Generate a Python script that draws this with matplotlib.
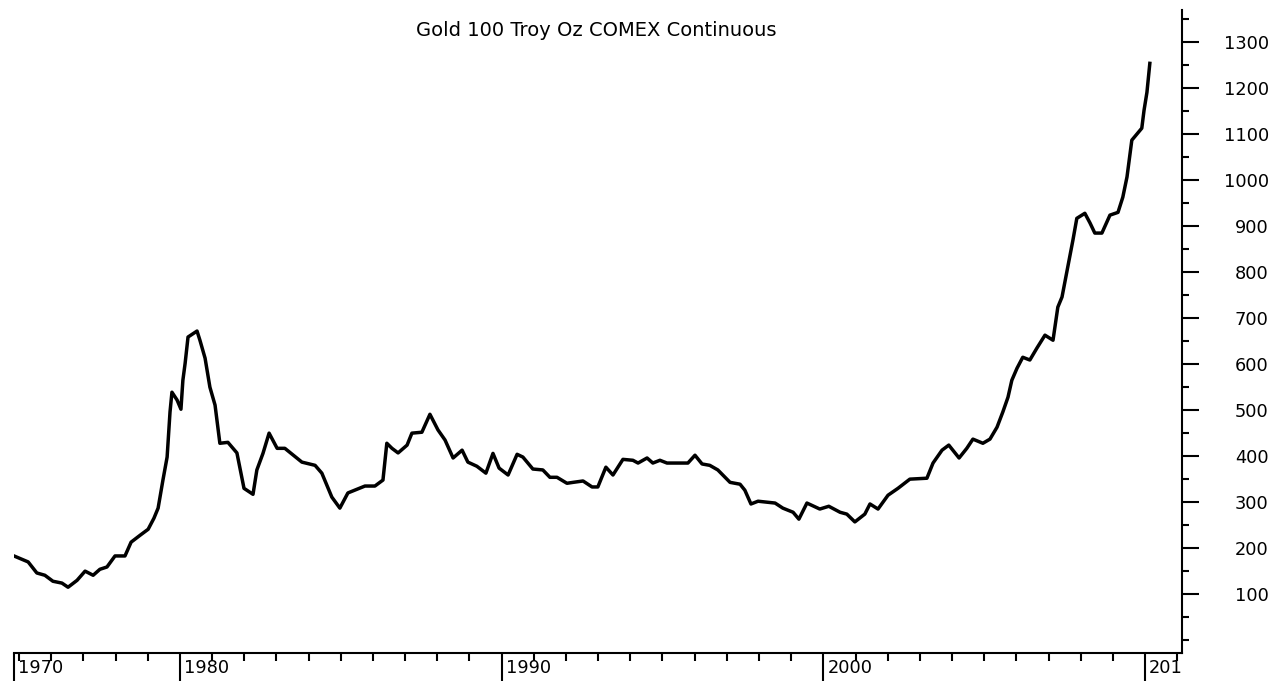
import matplotlib.pyplot as plt
import matplotlib.transforms as mtransforms
from matplotlib.ticker import MultipleLocator

# Gold price series (year, USD/oz)
years = [
    1974.84, 1975.28, 1975.55, 1975.80, 1976.05, 1976.33, 1976.52, 1976.80,
    1977.05, 1977.30, 1977.51, 1977.73, 1977.98, 1978.29, 1978.48, 1978.76,
    1979.01, 1979.19, 1979.32, 1979.47, 1979.60, 1979.69, 1979.75, 1979.91,
    1980.03, 1980.09, 1980.16, 1980.25, 1980.53, 1980.62, 1980.78, 1980.93,
    1981.09, 1981.24, 1981.49, 1981.77, 1981.99, 1982.27, 1982.39, 1982.58,
    1982.77, 1983.02, 1983.26, 1983.79, 1984.20, 1984.41, 1984.72, 1984.97,
    1985.22, 1985.75, 1986.06, 1986.31, 1986.43, 1986.59, 1986.78, 1987.06,
    1987.21, 1987.52, 1987.77, 1988.02, 1988.24, 1988.49, 1988.77, 1988.95,
    1989.23, 1989.51, 1989.73, 1989.92, 1990.20, 1990.48, 1990.66, 1990.97,
    1991.28, 1991.50, 1991.72, 1992.03, 1992.22, 1992.53, 1992.81, 1992.99,
    1993.24, 1993.46, 1993.77, 1994.08, 1994.24, 1994.52, 1994.70, 1994.92,
    1995.14, 1995.79, 1996.01, 1996.23, 1996.47, 1996.72, 1997.10, 1997.41,
    1997.56, 1997.75, 1997.97, 1998.50, 1998.74, 1999.06, 1999.24, 1999.49,
    1999.89, 2000.17, 2000.52, 2000.73, 2000.98, 2001.29, 2001.45, 2001.70,
    2002.01, 2002.32, 2002.69, 2003.22, 2003.41, 2003.69, 2003.90, 2004.22,
    2004.46, 2004.65, 2004.96, 2005.18, 2005.40, 2005.58, 2005.74, 2005.86,
    2006.02, 2006.20, 2006.42, 2006.64, 2006.89, 2007.14, 2007.29, 2007.42,
    2007.60, 2007.76, 2007.88, 2008.13, 2008.29, 2008.44, 2008.66, 2008.91,
    2009.16, 2009.31, 2009.44, 2009.59, 2009.90, 2009.97, 2010.06, 2010.15,
]
prices = [
    183, 170, 146, 141, 128, 124, 115, 130,
    150, 141, 154, 159, 183, 183, 213, 228,
    241, 265, 287, 348, 398, 496, 539, 522,
    502, 565, 602, 659, 672, 652, 613, 550,
    511, 428, 430, 407, 330, 317, 370, 406,
    450, 417, 417, 387, 380, 363, 311, 287,
    320, 335, 335, 348, 428, 417, 407, 424,
    450, 452, 491, 457, 435, 396, 413, 387,
    378, 363, 406, 374, 359, 404, 398, 372,
    370, 354, 354, 341, 343, 346, 333, 333,
    376, 359, 393, 391, 385, 396, 385, 391,
    385, 385, 402, 383, 380, 370, 343, 339,
    326, 296, 302, 298, 287, 278, 263, 298,
    285, 291, 278, 274, 257, 274, 296, 285,
    315, 330, 350, 352, 385, 413, 424, 396,
    417, 437, 428, 437, 463, 496, 528, 565,
    591, 615, 609, 635, 663, 652, 724, 746,
    811, 870, 917, 928, 907, 885, 885, 924,
    930, 963, 1007, 1087, 1113, 1152, 1191, 1254,
]

x_major = [1974.84, 1980, 1990, 2000, 2010]
x_labels = ["1970", "1980", "1990", "2000", "201"]
x_minor = [y for y in range(1975, 2012) if y % 10 != 0]
y_major = list(range(100, 1301, 100))

plt.rcParams["font.family"] = "DejaVu Sans"

fig = plt.figure(figsize=(12.79, 6.81), dpi=100)
ax = fig.add_axes([14 / 1279, 28 / 681, (1182 - 14) / 1279, (653 - 10) / 681])

ax.plot(years, prices, color="black", lw=2.5)

ax.set_xlim(1974.84, 2011.15)
ax.set_ylim(-28, 1370)

for s in ["left", "top"]:
    ax.spines[s].set_visible(False)
for s in ["right", "bottom"]:
    ax.spines[s].set_linewidth(1.5)

# right-hand price axis
ax.yaxis.tick_right()
ax.set_yticks(y_major)
ax.yaxis.set_minor_locator(MultipleLocator(50))
ax.tick_params(axis="y", which="major", length=12.5, width=1.5, labelsize=12.8, pad=50)
ax.tick_params(axis="y", which="minor", length=5, width=1.5)
for lab in ax.get_yticklabels():
    lab.set_ha("right")

# bottom year axis, labels sit beside the long ticks
ax.set_xticks(x_major)
ax.set_xticklabels(x_labels)
ax.set_xticks(x_minor, minor=True)
ax.tick_params(axis="x", which="major", length=20, width=1.5, labelsize=12.8, pad=-16)
ax.tick_params(axis="x", which="minor", length=6, width=1.5)
shift = mtransforms.ScaledTranslation(4 / 100, 0, fig.dpi_scale_trans)
for lab in ax.get_xticklabels():
    lab.set_ha("left")
    lab.set_transform(lab.get_transform() + shift)

fig.text(596 / 1279, 1 - 30 / 681, "Gold 100 Troy Oz COMEX Continuous",
         ha="center", va="center", fontsize=14)

fig.savefig("out.png", dpi=100, facecolor="white")
